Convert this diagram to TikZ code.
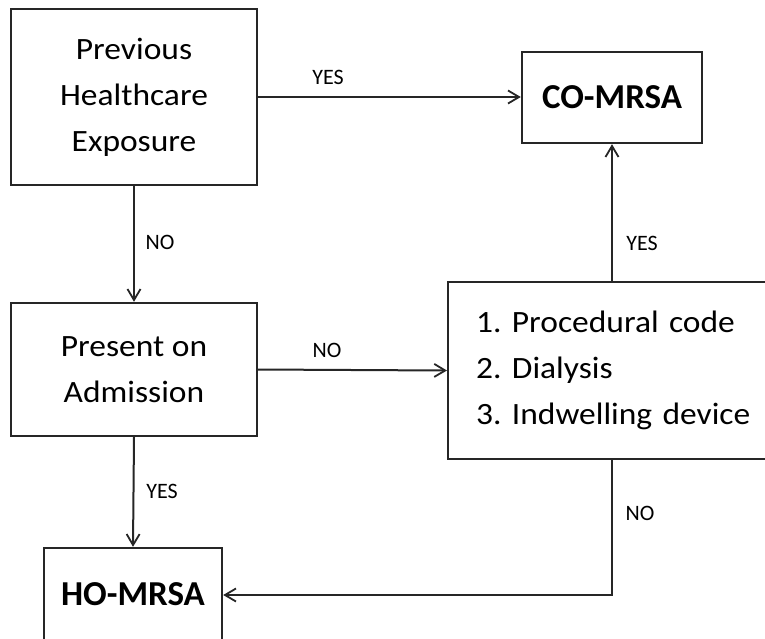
\documentclass[tikz,border=0pt]{standalone}
\usepackage{fontspec}
\setmainfont{Carlito}
\newfontfamily\boxfont[FakeStretch=1.08]{Carlito}
\usetikzlibrary{arrows.meta}
\definecolor{ink}{HTML}{262626}
\tikzset{
  box/.style={draw=ink, line width=2.4pt, text=black, inner sep=0pt,
    font=\boxfont\fontsize{31}{46}\selectfont, align=center},
  bbox/.style={draw=ink, line width=2.4pt, text=black, inner sep=0pt,
    font=\fontsize{35}{40}\selectfont\bfseries},
  conn/.style={draw=ink, line width=2pt, -{Straight Barb[length=11pt,width=13pt,line width=1.8pt]}},
  lbl/.style={font=\fontsize{22}{24}\selectfont, text=black, inner sep=0pt}
}
\begin{document}
\frenchspacing
\begin{tikzpicture}[x=1pt,y=-1pt]
\useasboundingbox (0,0) rectangle (765,638);
\begin{scope}
\clip (0,0) rectangle (765,638);
\node[box, minimum width=246pt, minimum height=176pt] (prev) at (134,97) {Previous\\Healthcare\\Exposure};
\node[bbox, minimum width=180pt, minimum height=91pt] (co) at (612,97.5) {CO-MRSA};
\node[box, minimum width=246pt, minimum height=133pt] (poa) at (134,369.5) {Present on\\Admission};
\node[box, anchor=west, align=left, text width=290pt, inner xsep=28pt, minimum height=177pt] (crit) at (447,370.5)
  {1. Procedural code\\2. Dialysis\\3. Indwelling device};
\node[bbox, minimum width=178pt, minimum height=92pt] (ho) at (133,594) {HO-MRSA};
\coordinate (critup) at (612,282);
\coordinate (critdn) at (612,459);
\coordinate (corner) at (612,595);

\draw[conn] (prev.east |- 0,97) -- (co.west |- 0,97);
\draw[conn] (prev.south) -- (poa.north);
\draw[conn] (poa.east) -- (crit.west);
\draw[conn] (critup) -- (co.south);
\draw[conn] (poa.south) -- (ho.north);
\draw[conn] (critdn) -- (corner) -- (ho.east |- corner);

\node[lbl] (l1) at (328,77) {YES};
\node[lbl] (l2) at (160,242) {NO};
\node[lbl] (l3) at (327,350) {NO};
\node[lbl] (l4) at (642,243) {YES};
\node[lbl] (l5) at (162,491) {YES};
\node[lbl] (l6) at (640,513) {NO};
\end{scope}
\end{tikzpicture}
\end{document}
